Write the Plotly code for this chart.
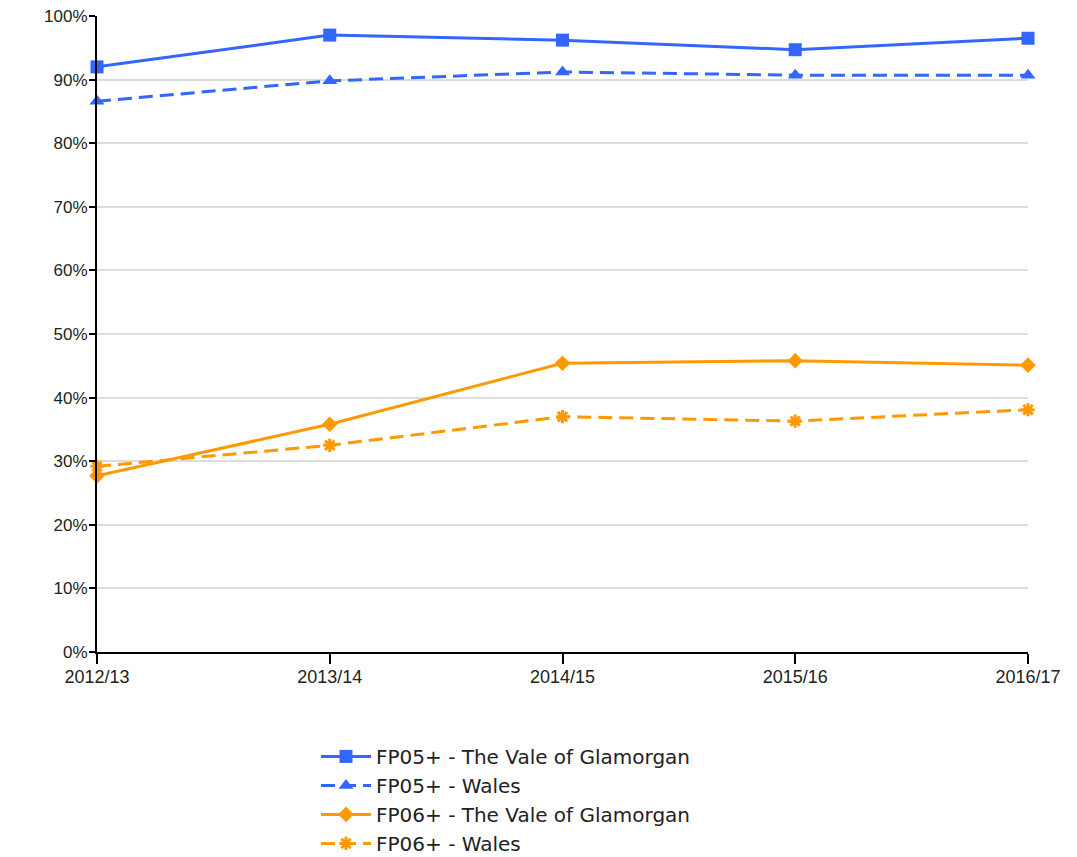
import plotly.graph_objects as go

years = ["2012/13", "2013/14", "2014/15", "2015/16", "2016/17"]
fp05_vale = [92.0, 97.0, 96.2, 94.7, 96.5]
fp05_wales = [86.6, 89.8, 91.2, 90.7, 90.7]
fp06_vale = [27.7, 35.8, 45.4, 45.8, 45.1]
fp06_wales = [29.2, 32.5, 37.0, 36.3, 38.1]
y_ticks = [0, 10, 20, 30, 40, 50, 60, 70, 80, 90, 100]
y_tick_labels = [f"{v}%" for v in y_ticks]

BLUE = "#3366FF"
ORANGE = "#FF9900"
DASH = "14px,7px"
xs = list(range(len(years)))

fig = go.Figure()
fig.add_trace(go.Scatter(x=xs, y=fp05_vale, name="FP05+ - The Vale of Glamorgan",
                         mode="lines+markers", line=dict(color=BLUE, width=3),
                         marker=dict(symbol="square", size=13, color=BLUE)))
fig.add_trace(go.Scatter(x=xs, y=fp05_wales, name="FP05+ - Wales",
                         mode="lines+markers", line=dict(color=BLUE, width=3, dash=DASH),
                         marker=dict(symbol="triangle-up", size=13, color=BLUE)))
fig.add_trace(go.Scatter(x=xs, y=fp06_vale, name="FP06+ - The Vale of Glamorgan",
                         mode="lines+markers", line=dict(color=ORANGE, width=3),
                         marker=dict(symbol="diamond", size=12, color=ORANGE)))
fig.add_trace(go.Scatter(x=xs, y=fp06_wales, name="FP06+ - Wales",
                         mode="lines+markers", line=dict(color=ORANGE, width=3, dash=DASH),
                         marker=dict(symbol="asterisk-open", size=11, color=ORANGE,
                                     line=dict(color=ORANGE, width=3))))

fig.update_layout(
    width=1077, height=857,
    margin=dict(l=97, r=49, t=16, b=205, autoexpand=False),
    paper_bgcolor="white", plot_bgcolor="white",
    font=dict(family="Liberation Sans, Arial, sans-serif", size=17, color="#222222"),
    showlegend=True,
    legend=dict(x=(316 - 97) / 931, y=-0.1335, xanchor="left", yanchor="top",
                font=dict(size=20, color="#222222",
                          family="DejaVu Sans, Liberation Sans, sans-serif"),
                tracegroupgap=0, itemwidth=50,
                bgcolor="rgba(0,0,0,0)"),
    xaxis=dict(range=[0, 4], tickvals=xs, ticktext=years, showgrid=False,
               showline=True, linecolor="black", linewidth=2,
               ticks="outside", ticklen=10, tickcolor="black", tickwidth=2,
               zeroline=False, tickfont=dict(size=18), automargin=False,
               ticklabelstandoff=-3),
    yaxis=dict(range=[0, 100], tickvals=y_ticks, ticktext=y_tick_labels,
               showgrid=True, gridcolor="#DDDDDD", gridwidth=1.5,
               showline=True, linecolor="black", linewidth=2,
               ticks="outside", ticklen=6, tickcolor="black", tickwidth=2,
               zeroline=False, tickfont=dict(size=17), automargin=False,
               ticklabelstandoff=-2),
)
for tr in fig.data:
    tr.cliponaxis = False

fig.write_html("out.html", config={"displayModeBar": False},
               post_script="document.body.style.margin='0';")
